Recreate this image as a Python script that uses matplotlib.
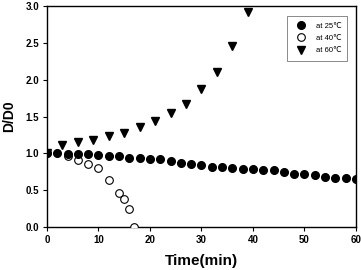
import matplotlib
matplotlib.use("Agg")
import matplotlib.pyplot as plt

plt.rcParams['font.family'] = ['Liberation Sans', 'DejaVu Sans']

# 25 C, every 2 min
t25 = list(range(0, 61, 2))
d25 = [1.00, 1.00, 0.99, 0.99, 0.985, 0.98, 0.97, 0.965, 0.94, 0.935, 0.93,
       0.925, 0.90, 0.875, 0.86, 0.84, 0.82, 0.816, 0.80, 0.785, 0.785,
       0.77, 0.77, 0.748, 0.72, 0.72, 0.707, 0.684, 0.67, 0.667, 0.657]

# 40 C
t40 = [0, 4, 6, 8, 10, 12, 14, 15, 16, 17]
d40 = [1.00, 0.967, 0.91, 0.86, 0.795, 0.645, 0.46, 0.386, 0.24, 0.0]

# 60 C, every 3 min
t60 = list(range(0, 40, 3))
d60 = [1.00, 1.11, 1.15, 1.18, 1.24, 1.28, 1.36, 1.44, 1.55, 1.67, 1.87,
       2.11, 2.46, 2.92]

fig = plt.figure(figsize=(3.61, 2.70), dpi=100)
ax = fig.add_axes([0.130, 0.159, 0.856, 0.819])

ax.plot(t25, d25, 'o', color='black', markersize=5.5, label='at 25\u2103', zorder=4)
ax.plot(t40, d40, 'o', markerfacecolor='white', markeredgecolor='black',
        markeredgewidth=0.8, markersize=5.5, label='at 40\u2103', zorder=3)
ax.plot(t60, d60, 'v', color='black', markersize=5.5, label='at 60\u2103', zorder=2)

ax.set_xlim(0, 60)
ax.set_ylim(0, 3.0)
ax.set_xticks(range(0, 61, 10))
ax.set_yticks([0, 0.5, 1.0, 1.5, 2.0, 2.5, 3.0])
ax.set_yticklabels(['0.0', '0.5', '1.0', '1.5', '2.0', '2.5', '3.0'])
ax.tick_params(direction='out', length=3, width=0.8, labelsize=7, pad=2.5)
for lab in ax.get_xticklabels() + ax.get_yticklabels():
    lab.set_fontweight('bold')
for s in ax.spines.values():
    s.set_linewidth(1.0)

ax.set_xlabel('Time(min)', fontsize=11, fontweight='bold', labelpad=7)
ax.set_ylabel('D/D0', fontsize=10, fontweight='bold', labelpad=7)

leg = ax.legend(loc='upper right', fontsize=5.5, frameon=True, fancybox=False,
                edgecolor='#555555', borderpad=0.8, handletextpad=0.9,
                labelspacing=0.65, bbox_to_anchor=(0.985, 0.97))
leg.get_frame().set_linewidth(0.6)

fig.savefig('out.png', dpi=100)
